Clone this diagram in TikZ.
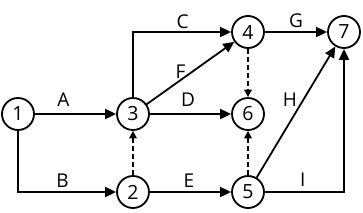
\documentclass[tikz,border=0pt]{standalone}
\usepackage{fontspec}
\setmainfont{Open Sans}
\usetikzlibrary{arrows.meta}
\begin{document}
\begin{tikzpicture}[x=1pt,y=-1pt,
  ev/.style={circle,draw,line width=1.8pt,minimum size=32pt,inner sep=0pt,font=\fontsize{19.5}{22}\selectfont},
  lbl/.style={inner sep=0pt,font=\fontsize{19}{22}\selectfont},
  arr/.style={line width=1.8pt,-{Triangle[length=11pt,width=10pt]}},
  darr/.style={line width=1.8pt,dash pattern=on 5pt off 3pt,-{Triangle[length=7.5pt,width=7.5pt]}}]
\useasboundingbox (0,0) rectangle (363,212);
\node[ev] (n1) at (18,114) {1};
\node[ev] (n3) at (133,114) {3};
\node[ev] (n2) at (133,192) {2};
\node[ev] (n6) at (248,114) {6};
\node[ev] (n5) at (248,192) {5};
\node[ev] (n4) at (248,32) {4};
\node[ev] (n7) at (344,32) {7};
\draw[arr] (n1) -- (n3);
\draw[arr] (n1) |- (n2);
\draw[arr] (n3) |- (n4);
\draw[arr] (n3) -- (n4);
\draw[arr] (n3) -- (n6);
\draw[darr] (n2) -- (n3);
\draw[arr] (n2) -- (n5);
\draw[darr] (n4) -- (n6);
\draw[darr] (n5) -- (n6);
\draw[arr] (n4) -- (n7);
\draw[arr] (n5) -- (n7);
\draw[arr] (n5) -| (n7);
\node[lbl] (lA) at (63.5,100) {A};
\node[lbl] (lB) at (62.5,180.5) {B};
\node[lbl] (lC) at (182.5,21.5) {C};
\node[lbl] (lF) at (180.5,72) {F};
\node[lbl] (lD) at (188,100) {D};
\node[lbl] (lE) at (189,181) {E};
\node[lbl] (lG) at (296,21) {G};
\node[lbl] (lH) at (290,100) {H};
\node[lbl] (lI) at (302.7,180) {I};
\end{tikzpicture}
\end{document}
